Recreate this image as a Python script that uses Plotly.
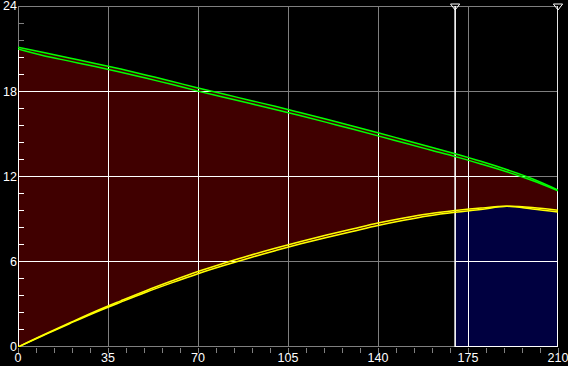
import plotly.graph_objects as go

# ---- data ----
xs = [0, 10, 20, 30, 40, 50, 60, 70, 80, 90, 100, 110, 120, 130, 140, 150, 160, 170, 180, 190, 200, 210]
green_upper = [21.10, 20.72, 20.34, 19.96, 19.56, 19.13, 18.69, 18.23, 17.80, 17.37, 16.94, 16.49,
               16.03, 15.56, 15.08, 14.59, 14.10, 13.60, 13.07, 12.49, 11.84, 11.05]
green_lower = [20.98, 20.50, 20.12, 19.74, 19.34, 18.91, 18.47, 18.01, 17.58, 17.15, 16.72, 16.27,
               15.81, 15.34, 14.86, 14.37, 13.88, 13.40, 12.88, 12.33, 11.72, 11.00]
yellow_upper = [0.00, 0.86, 1.69, 2.50, 3.25, 3.98, 4.66, 5.31, 5.89, 6.44, 6.95, 7.43,
                7.88, 8.30, 8.72, 9.08, 9.38, 9.60, 9.78, 9.90, 9.82, 9.62]
yellow_lower = [0.00, 0.83, 1.64, 2.43, 3.16, 3.87, 4.53, 5.16, 5.73, 6.27, 6.78, 7.26,
                7.71, 8.13, 8.55, 8.92, 9.24, 9.48, 9.68, 9.90, 9.72, 9.50]
marker_x = [170, 210]
x_ticks = [0, 35, 70, 105, 140, 175, 210]
y_ticks = [0, 6, 12, 18, 24]

X_MIN, X_MAX = x_ticks[0], x_ticks[-1]
Y_MIN, Y_MAX = y_ticks[0], y_ticks[-1]
split = xs.index(marker_x[0])

RED = "#400000"
NAVY = "#000040"
GRAY = "#808080"
FONT = dict(family="Liberation Sans Narrow, Liberation Sans, Arial", size=12.5, color="white")

fig = go.Figure()

# ---- subplot 1 : opaque fills ----
fig.add_trace(go.Scatter(x=xs, y=yellow_lower, mode="lines", line=dict(width=0),
                         xaxis="x", yaxis="y", hoverinfo="skip"))
fig.add_trace(go.Scatter(x=xs, y=green_upper, mode="lines", line=dict(width=0),
                         fill="tonexty", fillcolor=RED, xaxis="x", yaxis="y", hoverinfo="skip"))
fig.add_trace(go.Scatter(x=xs[split:], y=yellow_lower[split:], mode="lines", line=dict(width=0),
                         fill="tozeroy", fillcolor=NAVY, xaxis="x", yaxis="y", hoverinfo="skip"))

# ---- subplot 2 : white grid, border, dimming overlay for empty areas, curves ----
fig.add_trace(go.Scatter(x=[X_MIN, X_MAX, X_MAX, X_MIN, X_MIN], y=[Y_MIN, Y_MIN, Y_MAX, Y_MAX, Y_MIN],
                         mode="lines", line=dict(color="white", width=2),
                         xaxis="x2", yaxis="y2", hoverinfo="skip"))
fig.add_trace(go.Scatter(x=xs + xs[::-1], y=green_upper + [Y_MAX] * len(xs), mode="lines",
                         line=dict(width=0), fill="toself", fillcolor="rgba(0,0,0,0.5)",
                         xaxis="x2", yaxis="y2", hoverinfo="skip"))
fig.add_trace(go.Scatter(x=xs[:split + 1], y=yellow_lower[:split + 1], mode="lines",
                         line=dict(width=0), fill="tozeroy", fillcolor="rgba(0,0,0,0.5)",
                         xaxis="x2", yaxis="y2", hoverinfo="skip"))
for mx in marker_x:
    fig.add_trace(go.Scatter(x=[mx, mx], y=[Y_MIN, Y_MAX], mode="lines",
                             line=dict(color="white", width=1.6),
                             xaxis="x2", yaxis="y2", hoverinfo="skip"))
for ys in (green_upper, green_lower):
    fig.add_trace(go.Scatter(x=xs, y=ys, mode="lines", line=dict(color="#00ff00", width=1.5, shape="spline"),
                             xaxis="x2", yaxis="y2", hoverinfo="skip"))
for ys in (yellow_upper, yellow_lower):
    fig.add_trace(go.Scatter(x=xs, y=ys, mode="lines", line=dict(color="#ffff00", width=1.5, shape="spline"),
                             xaxis="x2", yaxis="y2", hoverinfo="skip"))
fig.add_trace(go.Scatter(x=marker_x, y=[Y_MAX] * len(marker_x), mode="markers", cliponaxis=False,
                         marker=dict(symbol="triangle-down-open", size=8, color="white",
                                     line=dict(color="white", width=1)),
                         xaxis="x2", yaxis="y2", hoverinfo="skip"))

hidden = dict(showgrid=False, zeroline=False, showline=False, showticklabels=False, ticks="",
              automargin=False)
fig.update_layout(
    width=568, height=366,
    margin=dict(l=18, r=10, t=6, b=19, autoexpand=False),
    paper_bgcolor="black",
    plot_bgcolor="rgba(0,0,0,0)",
    showlegend=False,
    font=FONT,
    xaxis=dict(range=[X_MIN, X_MAX], domain=[0, 1], anchor="y", **hidden),
    yaxis=dict(range=[Y_MIN, Y_MAX], domain=[0, 1], anchor="x", **hidden),
    xaxis2=dict(range=[X_MIN, X_MAX], domain=[0, 1], anchor="y2",
                tickvals=x_ticks, ticktext=[str(v) for v in x_ticks],
                showgrid=True, gridcolor="white", gridwidth=1, zeroline=False, showline=False,
                ticks="outside", ticklen=5, tickcolor=GRAY, tickwidth=1,
                minor=dict(dtick=7, tick0=0, ticks="outside", ticklen=5, tickcolor=GRAY, showgrid=False),
                tickfont=FONT, layer="below traces", automargin=False, ticklabeloverflow="allow",
                ticklabelstandoff=-6),
    yaxis2=dict(range=[Y_MIN, Y_MAX], domain=[0, 1], anchor="x2",
                tickvals=y_ticks, ticktext=[str(v) for v in y_ticks],
                showgrid=True, gridcolor="white", gridwidth=1, zeroline=False, showline=False,
                ticks="inside", ticklen=6, tickcolor="white", tickwidth=1,
                minor=dict(dtick=1.2, tick0=0, ticks="inside", ticklen=6, tickcolor="white", showgrid=False),
                tickfont=FONT, layer="below traces", automargin=False, ticklabeloverflow="allow"),
)

fig.write_html("out.html")
